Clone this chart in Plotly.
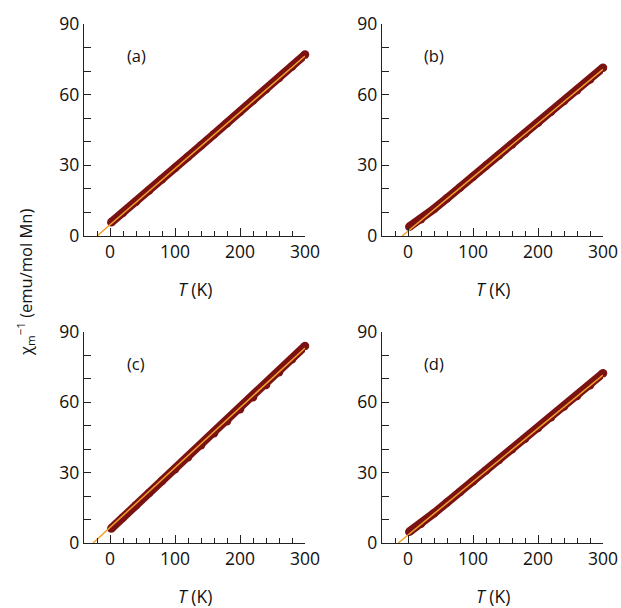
import plotly.graph_objects as go

W, H = 621, 608

# ---- data ----
panel_labels = ["(a)", "(b)", "(c)", "(d)"]

T_data = [2, 20, 40, 60, 80, 100, 120, 140, 160, 180, 200, 220, 240, 260, 280, 300]

chi_a = [5.8, 9.9, 14.5, 19.3, 24.1, 28.9, 33.6, 38.4, 43.2, 47.9, 52.7, 57.5, 62.3, 67.1, 72.0, 77.0]
chi_b = [3.9, 7.1, 11.5, 16.0, 20.6, 25.2, 29.8, 34.3, 38.9, 43.5, 48.1, 52.7, 57.3, 61.9, 66.4, 71.4]
chi_c = [6.2, 10.9, 16.1, 21.3, 26.5, 31.5, 36.6, 41.7, 46.8, 51.9, 57.1, 62.2, 67.4, 72.8, 78.4, 84.0]
chi_d = [4.8, 8.2, 12.7, 17.3, 21.8, 26.3, 30.9, 35.4, 40.0, 44.5, 49.1, 53.6, 58.2, 62.7, 67.3, 72.4]

# Curie-Weiss fit lines: (T at zero crossing, value at 300 K)
fit_T = [[-20, 300], [-9, 300], [-26, 300], [-15, 300]]
fit_chi = [[0, 76.4], [0, 70.8], [0, 83.2], [0, 71.6]]

chi_all = [chi_a, chi_b, chi_c, chi_d]

x_range = [-40, 300]
y_range = [0, 90]
x_ticks = [0, 100, 200, 300]
y_ticks = [0, 30, 60, 90]

# ---- layout geometry (pixels) ----
xdom_px = [(84, 305), (382, 603), (84, 305), (382, 603)]
ydom_px = [(24, 236), (24, 236), (332, 543), (332, 543)]

DARK = "#7a1212"
ORANGE = "#f2a02a"
FONT = "Open Sans"

fig = go.Figure()
annotations = []
layout = {}

for i in range(4):
    ax = "" if i == 0 else str(i + 1)
    xd = [xdom_px[i][0] / W, xdom_px[i][1] / W]
    yd = [1 - ydom_px[i][1] / H, 1 - ydom_px[i][0] / H]
    common = dict(
        showline=True, linecolor="#222", linewidth=1.3,
        ticks="inside", tickcolor="#222", tickwidth=1.3,
        showgrid=False, zeroline=False, automargin=False,
        tickfont=dict(family=FONT, size=17.5, color="#111"),
        fixedrange=True,
    )
    layout["xaxis" + ax] = dict(
        domain=xd, range=x_range, tickvals=x_ticks, ticklen=8,
        minor=dict(dtick=20, tick0=0, ticks="inside", ticklen=5, tickcolor="#222", tickwidth=1.3, showgrid=False),
        anchor="y" + ax, **common)
    layout["yaxis" + ax] = dict(
        domain=yd, range=y_range, tickvals=y_ticks, ticklen=7,
        minor=dict(dtick=10, tick0=0, ticks="inside", ticklen=7, tickcolor="#222", tickwidth=1.3, showgrid=False),
        anchor="x" + ax, **common)

    fig.add_trace(go.Scatter(
        x=T_data, y=chi_all[i], mode="lines+markers",
        line=dict(color=DARK, width=8.5),
        marker=dict(color=DARK, size=8.5),
        xaxis="x" + ax, yaxis="y" + ax, showlegend=False, cliponaxis=False))
    fig.add_trace(go.Scatter(
        x=fit_T[i], y=fit_chi[i], mode="lines",
        line=dict(color=ORANGE, width=1.5),
        xaxis="x" + ax, yaxis="y" + ax, showlegend=False))

    # panel label
    annotations.append(dict(
        text=panel_labels[i], xref="paper", yref="paper",
        x=(xdom_px[i][0] + 52) / W, y=1 - (ydom_px[i][0] + 31) / H,
        xanchor="center", yanchor="middle", showarrow=False,
        font=dict(family=FONT, size=16.5, color="#111")))
    # x title
    annotations.append(dict(
        text="<i>T</i> (K)", xref="paper", yref="paper",
        x=(xdom_px[i][0] + xdom_px[i][1]) / 2 / W, y=1 - (ydom_px[i][1] + 53) / H,
        xanchor="center", yanchor="middle", showarrow=False,
        font=dict(family=FONT, size=17.5, color="#111")))

annotations.append(dict(
    text="χ<sub>m</sub><sup>−1</sup> (emu/mol Mn)", xref="paper", yref="paper",
    x=25 / W, y=1 - 283 / H, xanchor="center", yanchor="middle",
    textangle=-90, showarrow=False,
    font=dict(family=FONT, size=16.5, color="#111")))

fig.update_layout(
    width=W, height=H,
    margin=dict(l=0, r=0, t=0, b=0),
    paper_bgcolor="white", plot_bgcolor="white",
    annotations=annotations,
    hovermode=False,
    **layout)

fig.write_html(
    "out.html",
    config={"displayModeBar": False},
    post_script="document.body.style.margin='0';document.body.style.overflow='hidden';",
)
